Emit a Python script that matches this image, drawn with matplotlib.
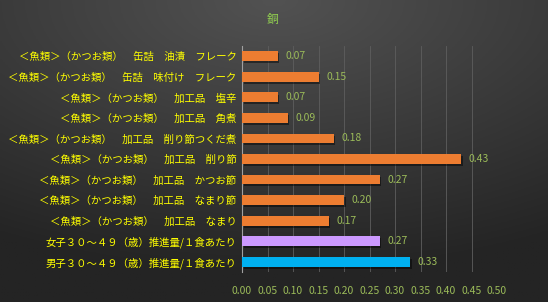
import matplotlib.pyplot as plt
import numpy as np

plt.rcParams['font.family'] = ['Noto Sans CJK JP', 'DejaVu Sans']
plt.rcParams['font.size'] = 7.5

# 上から順に
labels = [
    '＜魚類＞（かつお類）　缶詰　油漬　フレーク',
    '＜魚類＞（かつお類）　缶詰　味付け　フレーク',
    '＜魚類＞（かつお類）　加工品　塩辛',
    '＜魚類＞（かつお類）　加工品　角煮',
    '＜魚類＞（かつお類）　加工品　削り節つくだ煮',
    '＜魚類＞（かつお類）　加工品　削り節',
    '＜魚類＞（かつお類）　加工品　かつお節',
    '＜魚類＞（かつお類）　加工品　なまり節',
    '＜魚類＞（かつお類）　加工品　なまり',
    '女子３０～４９（歳）推進量/１食あたり',
    '男子３０～４９（歳）推進量/１食あたり',
]
values = [0.07, 0.15, 0.07, 0.09, 0.18, 0.43, 0.27, 0.20, 0.17, 0.27, 0.33]
colors = ['#ED7D31'] * 9 + ['#CC99FF', '#00B0F0']
xticks = np.arange(0, 0.501, 0.05)

fig = plt.figure(figsize=(5.48, 3.02), dpi=100)

# 背景グラデーション（上中央が明るい）
bg = fig.add_axes([0, 0, 1, 1])
yy, xx = np.mgrid[0:1:200j, 0:1:200j]
d = np.clip(np.sqrt((xx - 0.5) ** 2 + (yy * 1.1) ** 2) / 1.0, 0, 1)
lev = (0x52 - (0x52 - 0x24) * d) / 255.0
bg.imshow(np.dstack([lev, lev, lev]), aspect='auto', extent=[0, 1, 1, 0])
bg.set_axis_off()

ax = fig.add_axes([0.4416, 0.099, 0.4654, 0.749])
ax.patch.set_alpha(0)
y = np.arange(len(labels))
h = 0.47
# 影
ax.barh(y + 0.1, values, height=h, left=0.003, color='black', alpha=0.45, zorder=2)
ax.barh(y, values, height=h, color=colors, zorder=3)
for yi, v in zip(y, values):
    ax.text(v + 0.015, yi, f'{v:.2f}', va='center', ha='left', color='#9BBB59', fontsize=7.5)

ax.set_xlim(0, 0.5)
ax.set_ylim(len(labels) - 0.5, -0.5)
ax.set_xticks(xticks)
ax.set_xticklabels([f'{t:.2f}' for t in xticks], color='#9BBB59')
ax.set_yticks(y)
ax.set_yticklabels(labels, color='#FFFF00')
ax.tick_params(length=0, pad=4)
ax.tick_params(axis='x', pad=10)
ax.grid(axis='x', color='#5E5E5E', linewidth=0.6, zorder=0)
for s in ['top', 'right', 'bottom']:
    ax.spines[s].set_visible(False)
ax.spines['left'].set_color('#A0A0A0')
ax.spines['left'].set_linewidth(0.8)

fig.text(0.497, 0.935, '銅', ha='center', va='center', color='#92D050', fontsize=8.5)

fig.savefig('out.png', dpi=100)
